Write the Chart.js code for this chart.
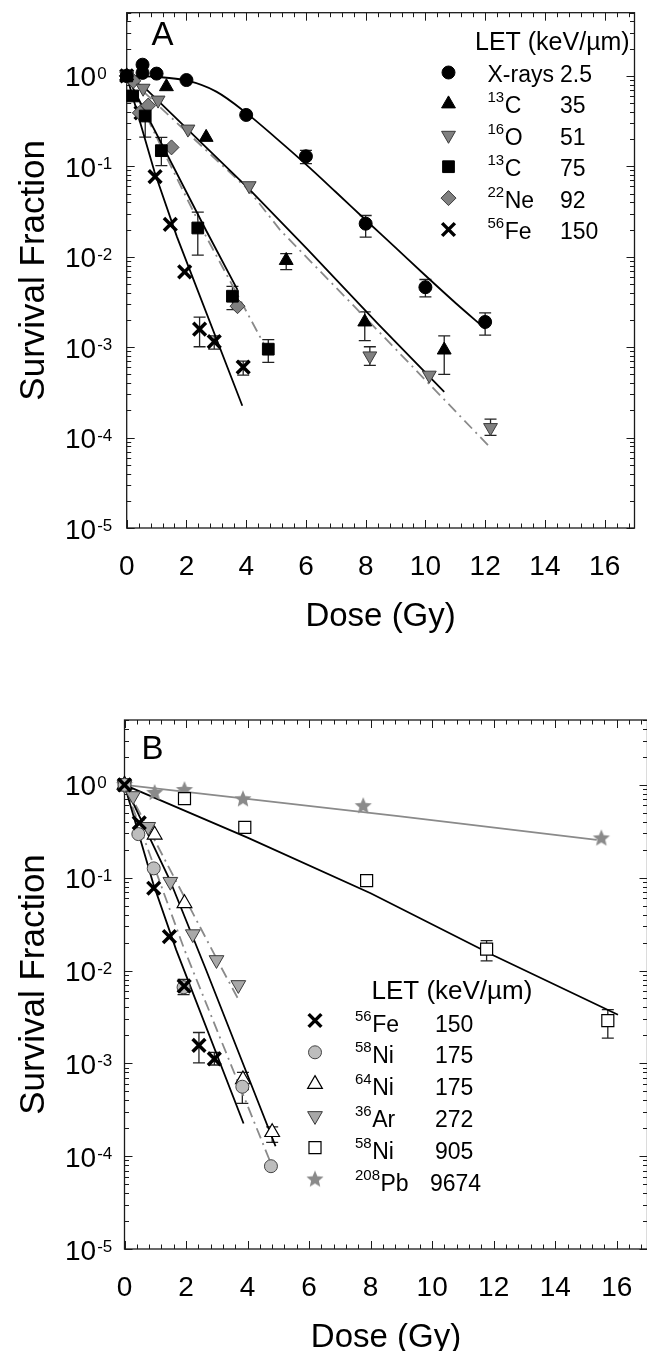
<!DOCTYPE html>
<html>
<head>
<meta charset="utf-8">
<script src="https://cdn.jsdelivr.net/npm/chart.js@4.4.0/dist/chart.umd.min.js"></script>
<style>
html, body { margin: 0; padding: 0; background: #fff; overflow: hidden; }
#wrap { position: relative; width: 647px; height: 1351px; overflow: hidden; }
#chartA { position: absolute; left: 0; top: 0; }
#chartB { position: absolute; left: 0; top: 650px; }
</style>
</head>
<body>
<div id="wrap">
  <canvas id="chartA" width="647" height="650"></canvas>
  <canvas id="chartB" width="660" height="701"></canvas>
</div>
<script>
// 目盛りラベル
const xTickLabels = [0, 2, 4, 6, 8, 10, 12, 14, 16];
const yTickExp = [0, -1, -2, -3, -4, -5];

// ===== パネルA（測定値）=====
const xrayDose = [0, 0.53, 0.53, 1.0, 2.0, 4.0, 6.0, 8.0, 10.0, 12.0];
const xraySF   = [1.0, 1.33, 1.08, 1.06, 0.90, 0.37, 0.129, 0.0232, 0.0046, 0.0019];
const xrayErr  = [null, null, null, null, null, null, [0.107, 0.15], [0.0165, 0.0286], [0.0036, 0.0056], [0.00136, 0.0024]];

const c35Dose = [0, 1.33, 2.66, 5.34, 7.97, 10.63];
const c35SF   = [1.0, 0.76, 0.209, 0.0091, 0.0019, 0.00093];
const c35Err  = [null, null, null, [0.0072, 0.0108], [0.00118, 0.00245], [0.0005, 0.00133]];

const o51Dose = [0, 0.55, 1.05, 2.05, 4.1, 8.14, 10.13, 12.18];
const o51SF   = [1.0, 0.73, 0.54, 0.258, 0.061, 0.0008, 0.00049, 0.000129];
const o51Err  = [null, null, null, null, null, [0.00063, 0.00101], null, [0.000106, 0.00016]];

const c75Dose = [0, 0.2, 0.62, 1.16, 2.38, 3.54, 4.74];
const c75SF   = [1.0, 0.6, 0.36, 0.149, 0.0208, 0.00366, 0.00095];
const c75Err  = [null, null, [0.21, 0.42], [0.102, 0.209], [0.0104, 0.0311], [0.0026, 0.0047], [0.00068, 0.00121]];

const ne92Dose = [0, 0.22, 0.44, 0.72, 1.5, 3.71];
const ne92SF   = [1.0, 0.88, 0.39, 0.47, 0.162, 0.00284];

const feADose = [0, 0.48, 0.95, 1.46, 1.94, 2.44, 2.93, 3.9];
const feASF   = [1.0, 0.39, 0.077, 0.0228, 0.0068, 0.00158, 0.00115, 0.0006];
const feAErr  = [null, null, null, null, null, [0.00101, 0.00215], [0.00095, 0.00133], [0.00049, 0.0007]];

// パネルA（フィット曲線）
const xrayFitDose = [0, 1, 2, 3, 4, 5, 6, 7, 8, 9, 10, 11, 12];
const xrayFitSF   = [1.0, 0.975, 0.89, 0.67, 0.39, 0.205, 0.105, 0.052, 0.0255, 0.0126, 0.0062, 0.0031, 0.0016];
const c35FitDose = [0, 0.66, 4.1, 6.03, 8.42, 10.63];
const c35FitSF   = [1.0, 0.71, 0.056, 0.0123, 0.0018, 0.00032];
const o51FitDose = [0, 4.1, 5.15, 8.58, 12.2];
const o51FitSF   = [1.0, 0.054, 0.0195, 0.00133, 0.000076];
const c75FitDose = [0, 2.66, 3.71];
const c75FitSF   = [1.0, 0.0195, 0.0043];
const ne92FitDose = [0, 1.33, 2.55, 4.65];
const ne92FitSF   = [1.0, 0.126, 0.0195, 0.001];
const feFitDose = [0, 0.93, 1.68, 3.87];
const feFitSF   = [1.0, 0.087, 0.0167, 0.000225];

// ===== パネルB（測定値）=====
const feBDose = [0, 0.48, 0.95, 1.46, 1.94, 2.42, 2.92];
const feBSF   = [1.0, 0.39, 0.077, 0.0232, 0.0068, 0.00156, 0.00112];
const feBErr  = [null, null, null, null, null, [0.00101, 0.00215], [0.00096, 0.00131]];

const ni58lDose = [0, 0.45, 0.95, 1.92, 3.83, 4.76];
const ni58lSF   = [1.0, 0.295, 0.126, 0.0066, 0.00056, 0.000078];
const ni58lErr  = [null, null, null, [0.0055, 0.008], [0.00037, 0.00064], null];

const ni64Dose = [0, 0.98, 1.95, 3.85, 4.8];
const ni64SF   = [1.0, 0.29, 0.053, 0.00067, 0.000181];
const ni64Err  = [null, null, null, [0.00052, 0.0008], [0.000141, 0.000207]];

const ar272Dose = [0, 0.28, 0.77, 1.49, 2.22, 2.99, 3.7];
const ar272SF   = [1.0, 0.76, 0.354, 0.0906, 0.0247, 0.013, 0.007];

const ni58hDose = [0, 1.95, 3.91, 7.87, 11.77, 15.71];
const ni58hSF   = [1.0, 0.71, 0.348, 0.093, 0.017, 0.00288];
const ni58hErr  = [null, null, null, null, [0.0127, 0.021], [0.00187, 0.0038]];

const pbDose = [0, 0.98, 1.95, 3.85, 7.76, 15.5];
const pbSF   = [1.0, 0.82, 0.88, 0.70, 0.59, 0.265];

// パネルB（フィット曲線）
const ni58lFitDose = [0, 1.95, 4.75];
const ni58lFitSF   = [1.0, 0.0167, 0.000085];
const ni64FitDose = [0, 1.47, 2.65, 4.91];
const ni64FitSF   = [1.0, 0.095, 0.0102, 0.000128];
const ar272FitDose = [0, 0.82, 3.13, 3.73];
const ar272FitSF   = [1.0, 0.32, 0.011, 0.0047];
const ni58hFitDose = [0, 4, 8, 12, 16.04];
const ni58hFitSF   = [1.0, 0.27, 0.068, 0.0145, 0.00334];
const pbFitDose = [0, 8.9, 15.35];
const pbFitSF   = [1.0, 0.46, 0.255];

// 凡例テキスト
const legendTitle = 'LET (keV/µm)';
const legendA = [['', 'X-rays', '2.5'], ['13', 'C', '35'], ['16', 'O', '51'], ['13', 'C', '75'], ['22', 'Ne', '92'], ['56', 'Fe', '150']];
const legendB = [['56', 'Fe', '150'], ['58', 'Ni', '175'], ['64', 'Ni', '175'], ['36', 'Ar', '272'], ['58', 'Ni', '905'], ['208', 'Pb', '9674']];

const FONT = '"Liberation Sans", Arial, sans-serif';
const GRAY_LINE = '#8a8a8a';
const DASH_DOT = [11, 5, 2, 5];

// 星マーカー（塗りつぶし）
function makeStar(r, fill) {
    const c = document.createElement('canvas');
    const s = Math.ceil(r * 2 + 2);
    c.width = s;
    c.height = s;
    const g = c.getContext('2d');
    g.beginPath();
    for (let i = 0; i < 10; i++) {
        const rr = i % 2 ? r * 0.45 : r;
        const ang = -Math.PI / 2 + i * Math.PI / 5;
        g.lineTo(s / 2 + rr * Math.cos(ang), s / 2 + rr * Math.sin(ang));
    }
    g.closePath();
    g.fillStyle = fill;
    g.fill();
    return c;
}

// マーカーの見た目
const mk = {
    circleBlack: { pointStyle: 'circle', radius: 6.5, fill: '#000', stroke: '#000', borderWidth: 1 },
    triBlack: { pointStyle: 'triangle', radius: 8, fill: '#000', stroke: '#000', borderWidth: 1 },
    invTriGray: { pointStyle: 'triangle', rotation: 180, radius: 8, fill: '#808080', stroke: '#3a3a3a', borderWidth: 1 },
    squareBlack: { pointStyle: 'rect', radius: 8.3, fill: '#000', stroke: '#000', borderWidth: 1 },
    diamondGray: { pointStyle: 'rectRot', radius: 7.5, fill: '#808080', stroke: '#3a3a3a', borderWidth: 1 },
    cross: { pointStyle: 'crossRot', radius: 9, fill: '#000', stroke: '#000', borderWidth: 3.5 },
    circleGray: { pointStyle: 'circle', radius: 6.5, fill: '#bdbdbd', stroke: '#444', borderWidth: 1 },
    triOpen: { pointStyle: 'triangle', radius: 8.5, fill: '#fff', stroke: '#000', borderWidth: 1.2 },
    invTriLight: { pointStyle: 'triangle', rotation: 180, radius: 8.5, fill: '#a8a8a8', stroke: '#3a3a3a', borderWidth: 1 },
    squareOpen: { pointStyle: 'rect', radius: 8.5, fill: '#fff', stroke: '#000', borderWidth: 1.2 },
    star: { pointStyle: makeStar(9, '#8a8a8a'), radius: 9, fill: '#8a8a8a', stroke: '#8a8a8a', borderWidth: 0 }
};

function pts(xs, ys) {
    return xs.map((x, i) => ({ x: x, y: ys[i] }));
}

function markerSet(xs, ys, style, errors) {
    return {
        data: pts(xs, ys),
        showLine: false,
        clip: false,
        order: 1,
        pointStyle: style.pointStyle,
        pointRadius: style.radius,
        pointRotation: style.rotation || 0,
        pointBackgroundColor: style.fill,
        pointBorderColor: style.stroke,
        pointBorderWidth: style.borderWidth,
        errors: errors || null
    };
}

function fitLine(xs, ys, color, dash, smooth) {
    return {
        data: pts(xs, ys),
        showLine: true,
        pointRadius: 0,
        borderColor: color,
        borderWidth: 1.8,
        borderDash: dash || [],
        fill: false,
        clip: false,
        order: 2,
        tension: 0,
        cubicInterpolationMode: smooth ? 'monotone' : 'default'
    };
}

// 枠と内向きの目盛り
function drawFrame(chart) {
    const ctx = chart.ctx, a = chart.chartArea, xs = chart.scales.x, ys = chart.scales.y;
    ctx.save();
    ctx.strokeStyle = '#1a1a1a';
    ctx.lineWidth = 1.3;
    ctx.strokeRect(a.left, a.top, a.right - a.left, a.bottom - a.top);
    ctx.lineWidth = 1;
    ctx.beginPath();
    for (let k = 0; k <= 42; k++) {
        const px = Math.round(xs.getPixelForValue(k * 0.4)) + 0.5;
        const len = k % 5 === 0 ? 8 : 4.5;
        ctx.moveTo(px, a.bottom);
        ctx.lineTo(px, a.bottom - len);
        ctx.moveTo(px, a.top);
        ctx.lineTo(px, a.top + len);
    }
    for (let e = -5; e <= 0; e++) {
        for (let m = 1; m <= 9; m++) {
            const v = m * Math.pow(10, e);
            if (v > ys.max) break;
            const py = Math.round(ys.getPixelForValue(v)) + 0.5;
            const len = m === 1 ? 8 : 4.5;
            ctx.moveTo(a.left, py);
            ctx.lineTo(a.left + len, py);
            ctx.moveTo(a.right, py);
            ctx.lineTo(a.right - len, py);
        }
    }
    ctx.stroke();
    ctx.restore();
}

// エラーバー
function drawErrors(chart) {
    const ctx = chart.ctx, ys = chart.scales.y;
    ctx.save();
    ctx.strokeStyle = '#222';
    ctx.lineWidth = 1.3;
    chart.data.datasets.forEach((ds, i) => {
        if (!ds.errors) return;
        const meta = chart.getDatasetMeta(i);
        ds.errors.forEach((e, j) => {
            if (!e) return;
            const x = meta.data[j].x;
            const y0 = ys.getPixelForValue(e[0]);
            const y1 = ys.getPixelForValue(e[1]);
            ctx.beginPath();
            ctx.moveTo(x, y0); ctx.lineTo(x, y1);
            ctx.moveTo(x - 6, y0); ctx.lineTo(x + 6, y0);
            ctx.moveTo(x - 6, y1); ctx.lineTo(x + 6, y1);
            ctx.stroke();
        });
    });
    ctx.restore();
}

// 軸ラベル・パネル文字・凡例
function drawTexts(chart, p) {
    const ctx = chart.ctx, a = chart.chartArea, xs = chart.scales.x, ys = chart.scales.y;
    ctx.save();
    ctx.fillStyle = '#000';
    ctx.textBaseline = 'alphabetic';

    ctx.font = p.tickFont + 'px ' + FONT;
    ctx.textAlign = 'center';
    xTickLabels.forEach(v => ctx.fillText(String(v), xs.getPixelForValue(v), a.bottom + 46.5));

    ctx.textAlign = 'left';
    yTickExp.forEach(e => {
        const py = ys.getPixelForValue(Math.pow(10, e));
        ctx.font = p.tickFont + 'px ' + FONT;
        ctx.fillText('10', p.yLabelX, py + 10.5);
        const w = ctx.measureText('10').width;
        ctx.font = p.supFont + 'px ' + FONT;
        ctx.fillText(String(e), p.yLabelX + w + 1, py + 3);
    });

    // 軸タイトル
    ctx.font = p.titleFont + 'px ' + FONT;
    ctx.textAlign = 'center';
    ctx.fillText('Dose (Gy)', (a.left + a.right) / 2, a.bottom + 98);
    ctx.save();
    ctx.translate(p.yTitleX, (a.top + a.bottom) / 2);
    ctx.rotate(-Math.PI / 2);
    ctx.font = (p.titleFont + 2) + 'px ' + FONT;
    ctx.fillText('Survival Fraction', 0, 0);
    ctx.restore();

    // パネル文字
    ctx.textAlign = 'left';
    ctx.font = '33px ' + FONT;
    ctx.fillText(p.letter, p.letterX, p.letterY);

    // 凡例
    const L = p.legend;
    ctx.font = L.headFont + 'px ' + FONT;
    ctx.fillText(legendTitle, L.headX, L.headY);
    L.rows.forEach((row, i) => {
        const my = L.y0 + i * L.dy;
        const st = L.markers[i];
        ctx.save();
        ctx.fillStyle = st.fill;
        ctx.strokeStyle = st.stroke;
        ctx.lineWidth = st.borderWidth;
        Chart.helpers.drawPoint(ctx, { pointStyle: st.pointStyle, rotation: st.rotation || 0, radius: st.radius, borderWidth: st.borderWidth }, L.markerX, my);
        ctx.restore();
        const base = my + L.baseOff;
        let x = L.nameX;
        if (row[0]) {
            ctx.font = L.supFont + 'px ' + FONT;
            ctx.fillText(row[0], x, base - 11);
            x += ctx.measureText(row[0]).width + 0.5;
        }
        ctx.font = L.font + 'px ' + FONT;
        ctx.fillText(row[1], x, base);
        ctx.fillText(row[2], row[2].length > 3 ? L.valX - 5 : L.valX, base);
    });
    ctx.restore();
}

function makePanelPlugin(p) {
    return {
        id: 'panel' + p.letter,
        beforeDatasetsDraw(chart) {
            drawFrame(chart);
            drawErrors(chart);
        },
        afterDraw(chart) {
            drawTexts(chart, p);
        }
    };
}

function renderPanel(canvasId, datasets, padding, p) {
    const ctx = document.getElementById(canvasId).getContext('2d');
    return new Chart(ctx, {
        type: 'scatter',
        data: { datasets: datasets },
        options: {
            responsive: false,
            animation: false,
            devicePixelRatio: 1,
            events: [],
            layout: { padding: padding },
            plugins: { legend: { display: false }, tooltip: { enabled: false } },
            scales: {
                x: { type: 'linear', min: 0, max: 17, display: false },
                y: { type: 'logarithmic', min: 1e-5, max: 5, display: false }
            }
        },
        plugins: [makePanelPlugin(p)]
    });
}

// パネルA
renderPanel('chartA', [
    markerSet(xrayDose, xraySF, mk.circleBlack, xrayErr),
    markerSet(c35Dose, c35SF, mk.triBlack, c35Err),
    markerSet(o51Dose, o51SF, mk.invTriGray, o51Err),
    markerSet(c75Dose, c75SF, mk.squareBlack, c75Err),
    markerSet(ne92Dose, ne92SF, mk.diamondGray),
    markerSet(feADose, feASF, mk.cross, feAErr),
    fitLine(xrayFitDose, xrayFitSF, '#000', null, true),
    fitLine(c35FitDose, c35FitSF, '#000'),
    fitLine(o51FitDose, o51FitSF, GRAY_LINE, DASH_DOT),
    fitLine(c75FitDose, c75FitSF, '#000'),
    fitLine(ne92FitDose, ne92FitSF, GRAY_LINE, DASH_DOT),
    fitLine(feFitDose, feFitSF, '#000')
], { left: 126.7, top: 12.7, right: 8.5, bottom: 122 }, {
    letter: 'A', letterX: 151.5, letterY: 45,
    tickFont: 28, supFont: 17, titleFont: 33, yLabelX: 65, yTitleX: 43.5,
    legend: {
        headFont: 25, headX: 475, headY: 50,
        rows: legendA,
        markers: [mk.circleBlack, mk.triBlack, mk.invTriGray, mk.squareBlack, mk.diamondGray, mk.cross],
        markerX: 448.5, y0: 72.5, dy: 31.4, baseOff: 9.5,
        nameX: 487.5, valX: 560, font: 23, supFont: 15
    }
});

// パネルB
renderPanel('chartB', [
    markerSet(feBDose, feBSF, mk.cross, feBErr),
    markerSet(ni58lDose, ni58lSF, mk.circleGray, ni58lErr),
    markerSet(ni64Dose, ni64SF, mk.triOpen, ni64Err),
    markerSet(ar272Dose, ar272SF, mk.invTriLight),
    markerSet(ni58hDose, ni58hSF, mk.squareOpen, ni58hErr),
    markerSet(pbDose, pbSF, mk.star),
    fitLine(feFitDose, feFitSF, '#000'),
    fitLine(ni58lFitDose, ni58lFitSF, GRAY_LINE, DASH_DOT),
    fitLine(ni64FitDose, ni64FitSF, '#000'),
    fitLine(ar272FitDose, ar272FitSF, GRAY_LINE, DASH_DOT),
    fitLine(ni58hFitDose, ni58hFitSF, '#000'),
    fitLine(pbFitDose, pbFitSF, GRAY_LINE)
], { left: 124.5, top: 70, right: 8.5, bottom: 102 }, {
    letter: 'B', letterX: 141.5, letterY: 109,
    tickFont: 28, supFont: 17, titleFont: 33, yLabelX: 65, yTitleX: 44,
    legend: {
        headFont: 26, headX: 371.5, headY: 349,
        rows: legendB,
        markers: [mk.cross, mk.circleGray, mk.triOpen, mk.invTriLight, mk.squareOpen, mk.star],
        markerX: 315, y0: 370.5, dy: 31.8, baseOff: 11,
        nameX: 355, valX: 435, font: 23, supFont: 15
    }
});
</script>
</body>
</html>
